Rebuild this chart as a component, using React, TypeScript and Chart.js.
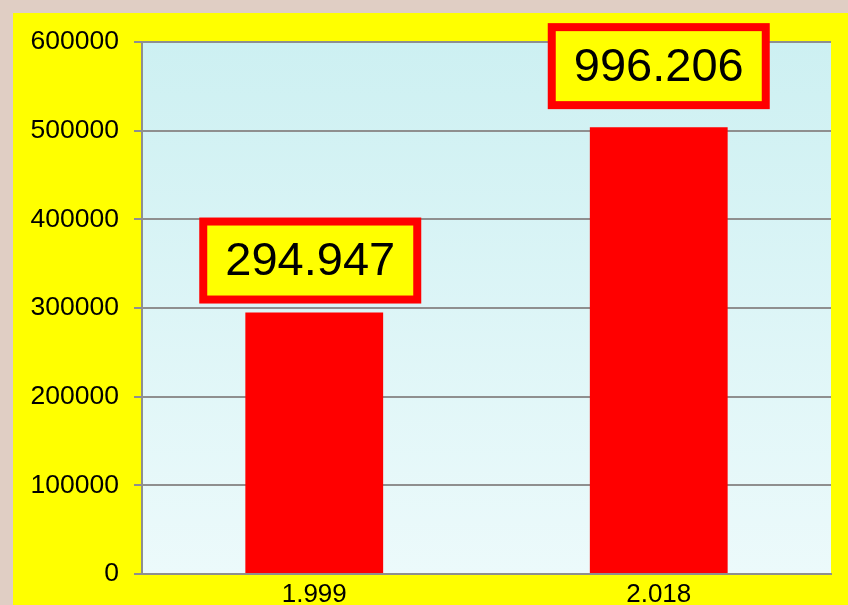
import React, { useEffect, useRef } from "react";
import { Chart, registerables } from "chart.js";

Chart.register(...registerables);

const categories = ["1.999", "2.018"];
const values = [294947, 504000];
const boxLabels = ["294.947", "996.206"];
const yTicks = [0, 100000, 200000, 300000, 400000, 500000, 600000];

const FONT = "'Liberation Sans', Arial, sans-serif";

const backgroundPlugin = {
  id: "bgPlugin",
  beforeDraw(chart: any) {
    const { ctx, width, height, chartArea } = chart;
    ctx.save();
    ctx.fillStyle = "#e0cec4";
    ctx.fillRect(0, 0, width, height);
    ctx.fillStyle = "#ffff00";
    ctx.fillRect(13, 13, width - 13, height - 13);
    const g = ctx.createLinearGradient(0, chartArea.top, 0, chartArea.bottom);
    g.addColorStop(0, "#cdf0f2");
    g.addColorStop(1, "#ecfafb");
    ctx.fillStyle = g;
    ctx.fillRect(chartArea.left, chartArea.top, chartArea.right - chartArea.left, chartArea.bottom - chartArea.top);
    ctx.restore();
  },
};

const boxPlugin = {
  id: "boxPlugin",
  afterDatasetsDraw(chart: any, _args: any, opts: any) {
    const { ctx } = chart;
    const meta = chart.getDatasetMeta(0);
    const gaps: number[] = opts.gaps || [];
    const dxs: number[] = opts.dx || [];
    ctx.save();
    meta.data.forEach((bar: any, i: number) => {
      const w = 222;
      const h = 86;
      const b = 8;
      const cx = bar.x + (dxs[i] || 0);
      const bottom = bar.y - (gaps[i] || 10);
      const left = cx - w / 2;
      const top = bottom - h;
      ctx.fillStyle = "#ff0000";
      ctx.fillRect(left, top, w, h);
      ctx.fillStyle = "#ffff00";
      ctx.fillRect(left + b, top + b, w - 2 * b, h - 2 * b);
      ctx.fillStyle = "#000000";
      ctx.font = `47px ${FONT}`;
      ctx.textAlign = "center";
      ctx.textBaseline = "middle";
      ctx.fillText(boxLabels[i], cx, top + h / 2 + 2);
    });
    ctx.restore();
  },
};

export default function App() {
  const ref = useRef<HTMLCanvasElement | null>(null);
  useEffect(() => {
    if (!ref.current) return;
    const chart = new Chart(ref.current, {
      type: "bar",
      data: {
        labels: categories,
        datasets: [
          {
            data: values,
            backgroundColor: "#ff0000",
            borderWidth: 0,
            barPercentage: 0.4,
            categoryPercentage: 1,
          },
        ],
      },
      options: {
        responsive: false,
        animation: false,
        layout: { padding: { left: 0, right: 17, top: 42, bottom: 0 } },
        plugins: {
          legend: { display: false },
          tooltip: { enabled: false },
          boxPlugin: { gaps: [9, 18], dx: [-4, 0] },
        } as any,
        scales: {
          x: {
            grid: { display: false, drawTicks: false },
            border: { display: true, color: "#8f8f8f", width: 2 },
            ticks: {
              color: "#000000",
              font: { family: FONT, size: 26 },
              padding: 5,
            },
            afterFit(scale: any) {
              scale.height = 30;
            },
          },
          y: {
            min: 0,
            max: 600000,
            afterBuildTicks(scale: any) {
              scale.ticks = yTicks.map((v) => ({ value: v }));
            },
            grid: { color: "#8f8f8f", lineWidth: 2, tickLength: 8, drawTicks: true },
            border: { display: true, color: "#8f8f8f", width: 2 },
            ticks: {
              color: "#000000",
              font: { family: FONT, size: 26.5 },
              padding: 15,
              callback: (v: any) => String(v),
            },
            afterFit(scale: any) {
              scale.width = 142;
            },
          },
        },
      },
      plugins: [backgroundPlugin, boxPlugin],
    });
    return () => chart.destroy();
  }, []);
  return (
    <canvas
      ref={ref}
      width={848}
      height={605}
      style={{ position: "fixed", left: 0, top: 0, display: "block", width: 848, height: 605 }}
    />
  );
}
